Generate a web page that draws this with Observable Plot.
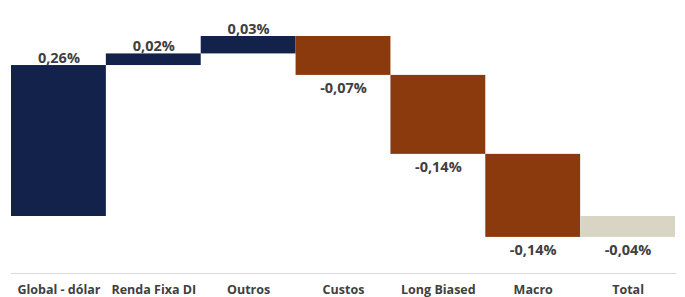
<!DOCTYPE html>
<html><head><meta charset="utf-8">
<script src="https://cdn.jsdelivr.net/npm/d3@7"></script>
<script src="https://cdn.jsdelivr.net/npm/@observablehq/plot@0.6"></script>
<style>
body{margin:0;background:#fff;font-family:"Open Sans",sans-serif}
#wrap{position:relative;width:685px;height:297px;overflow:hidden}
#topline{position:absolute;left:4px;top:4px;width:681px;height:3px;background:#d9d5c5}
#wrap svg{position:absolute;left:0;top:0}
</style>
</head><body><div id="wrap"><div id="topline"></div></div>
<script>
const categories = ["Global - dólar", "Renda Fixa DI", "Outros", "Custos", "Long Biased", "Macro"];
const values = [0.26, 0.02, 0.03, -0.067, -0.136, -0.143];
const totalName = "Total";
const colors = {pos: "#13224a", neg: "#8b3a0e", total: "#d9d5c5"};

let cum = 0;
const rows = categories.map((name, i) => {
  const start = cum; cum += values[i];
  return {name, start, end: cum, value: values[i], kind: values[i] >= 0 ? "pos" : "neg"};
});
rows.push({name: totalName, start: 0, end: cum, value: cum, kind: "total"});
const fmt = v => (v < 0 ? "-" : "") + Math.abs(v).toFixed(2).replace(".", ",") + "%";
rows.forEach(r => { r.label = fmt(r.value); r.top = Math.max(r.start, r.end); r.bottom = Math.min(r.start, r.end); });

const chart = Plot.plot({
  width: 685, height: 297,
  marginTop: 0, marginLeft: 11, marginRight: 10, marginBottom: 24,
  style: {fontFamily: "'Open Sans', sans-serif", fontWeight: "bold", fontSize: "12.5px", color: "#404040", background: "white"},
  x: {domain: rows.map(d => d.name), padding: 0, round: false, tickSize: 0, tickPadding: 12, label: null},
  y: {domain: [0, 0.31], range: [216, 36], axis: null},
  marks: [
    Plot.frame({anchor: "bottom", stroke: "#d9d9d9"}),
    Plot.barY(rows, {x: "name", y1: "start", y2: "end", fill: d => colors[d.kind], inset: 0}),
    Plot.text(rows.filter(d => d.value >= 0), {x: "name", y: "top", text: "label", lineAnchor: "bottom", dy: -3, fontSize: 14.5, fontWeight: "bold", fill: "#404040"}),
    Plot.text(rows.filter(d => d.value < 0), {x: "name", y: "bottom", text: "label", lineAnchor: "top", dy: 7, fontSize: 14.5, fontWeight: "bold", fill: "#404040"})
  ]
});
document.getElementById("wrap").appendChild(chart);
</script>
</body></html>
